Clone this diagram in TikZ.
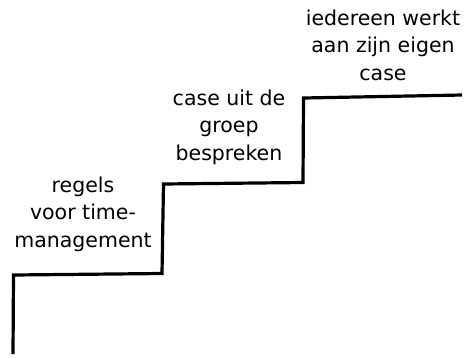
\documentclass[tikz,border=0pt]{standalone}
\usepackage{fontspec}
\setmainfont{DejaVu Sans}
\begin{document}
\begin{tikzpicture}[x=1pt,y=-1pt,
  stairline/.style={line width=3.2pt,line join=miter,line cap=butt,black},
  steplabel/.style={align=center,font=\fontsize{20.5}{27.5}\selectfont,inner sep=0pt,anchor=center}]
\useasboundingbox (0,0) rectangle (468,357);
\draw[stairline] (13,354) -- (13.5,275) -- (162,273.5) -- (163.5,184) -- (303,182.5) -- (303.5,98) -- (462,95);
\node[steplabel] (t1) at (83,214) {regels\\voor time-\\management};
\node[steplabel] (t2) at (229,127) {case uit de\\groep\\bespreken};
\node[steplabel] (t3) at (383,45) {iedereen werkt\\aan zijn eigen\\case};
\end{tikzpicture}
\end{document}
